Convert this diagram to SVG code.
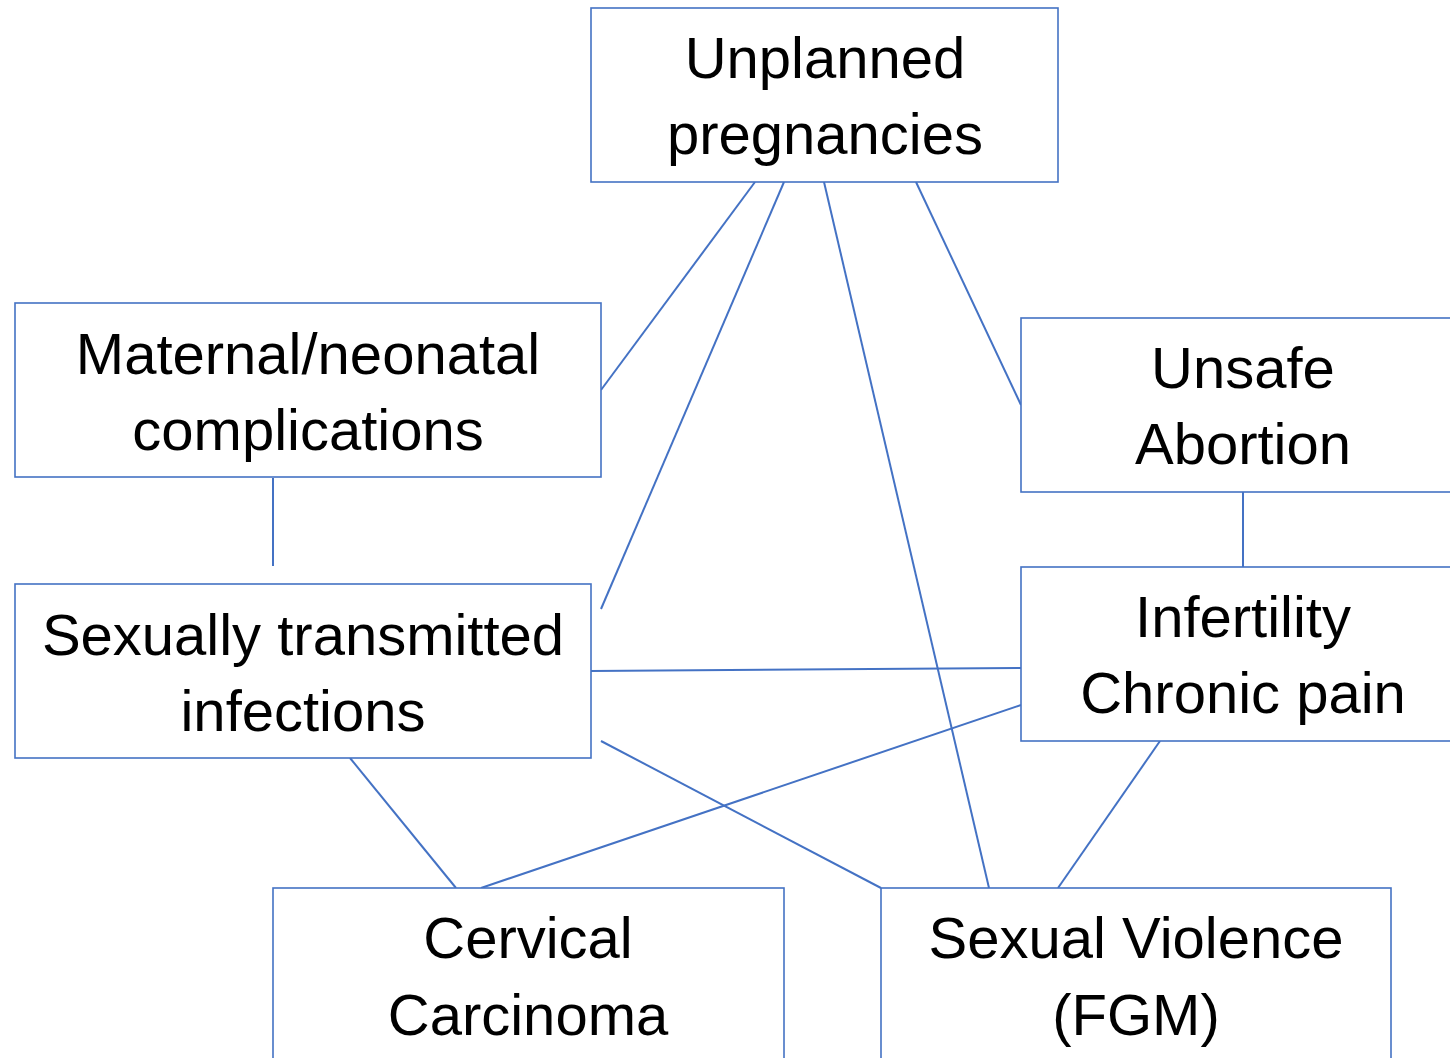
<svg xmlns="http://www.w3.org/2000/svg" width="1450" height="1058" viewBox="0 0 1450 1058">
<style>
.box{fill:#fff;stroke:#4472C4;stroke-width:1.6}
.lbl{font-family:"Liberation Sans",Arial,sans-serif;font-size:58px;fill:#000;text-anchor:middle}
.con line{stroke:#4472C4;stroke-width:2}
</style>
<rect width="1450" height="1058" fill="#fff"/>
<g class="con">
<line x1="755" y1="182" x2="601" y2="390"/>
<line x1="784" y1="182" x2="601" y2="609"/>
<line x1="824" y1="182" x2="989" y2="888"/>
<line x1="916" y1="182" x2="1021" y2="405"/>
<line x1="273" y1="478" x2="273" y2="566"/>
<line x1="1243" y1="492" x2="1243" y2="567"/>
<line x1="591" y1="671" x2="1021" y2="668"/>
<line x1="1021" y1="705" x2="481" y2="888"/>
<line x1="350" y1="758" x2="456" y2="888"/>
<line x1="601" y1="741" x2="881" y2="888"/>
<line x1="1160" y1="741" x2="1058" y2="888"/>
</g>
<g id="unplanned">
<rect class="box" x="591" y="8" width="467" height="174"/>
<text class="lbl" x="825" y="78">Unplanned</text>
<text class="lbl" x="825" y="154">pregnancies</text>
</g>
<g id="maternal">
<rect class="box" x="15" y="303" width="586" height="174"/>
<text class="lbl" x="308" y="374">Maternal/neonatal</text>
<text class="lbl" x="308" y="450">complications</text>
</g>
<g id="unsafe">
<rect class="box" x="1021" y="318" width="444" height="174"/>
<text class="lbl" x="1243" y="388">Unsafe</text>
<text class="lbl" x="1243" y="464">Abortion</text>
</g>
<g id="sti">
<rect class="box" x="15" y="584" width="576" height="174"/>
<text class="lbl" x="303" y="655">Sexually transmitted</text>
<text class="lbl" x="303" y="731">infections</text>
</g>
<g id="infertility">
<rect class="box" x="1021" y="567" width="444" height="174"/>
<text class="lbl" x="1243" y="637">Infertility</text>
<text class="lbl" x="1243" y="713">Chronic pain</text>
</g>
<g id="cervical">
<rect class="box" x="273" y="888" width="511" height="190"/>
<text class="lbl" x="528" y="958">Cervical</text>
<text class="lbl" x="528" y="1035">Carcinoma</text>
</g>
<g id="violence">
<rect class="box" x="881" y="888" width="510" height="190"/>
<text class="lbl" x="1136" y="958">Sexual Violence</text>
<text class="lbl" x="1136" y="1035">(FGM)</text>
</g>
</svg>
